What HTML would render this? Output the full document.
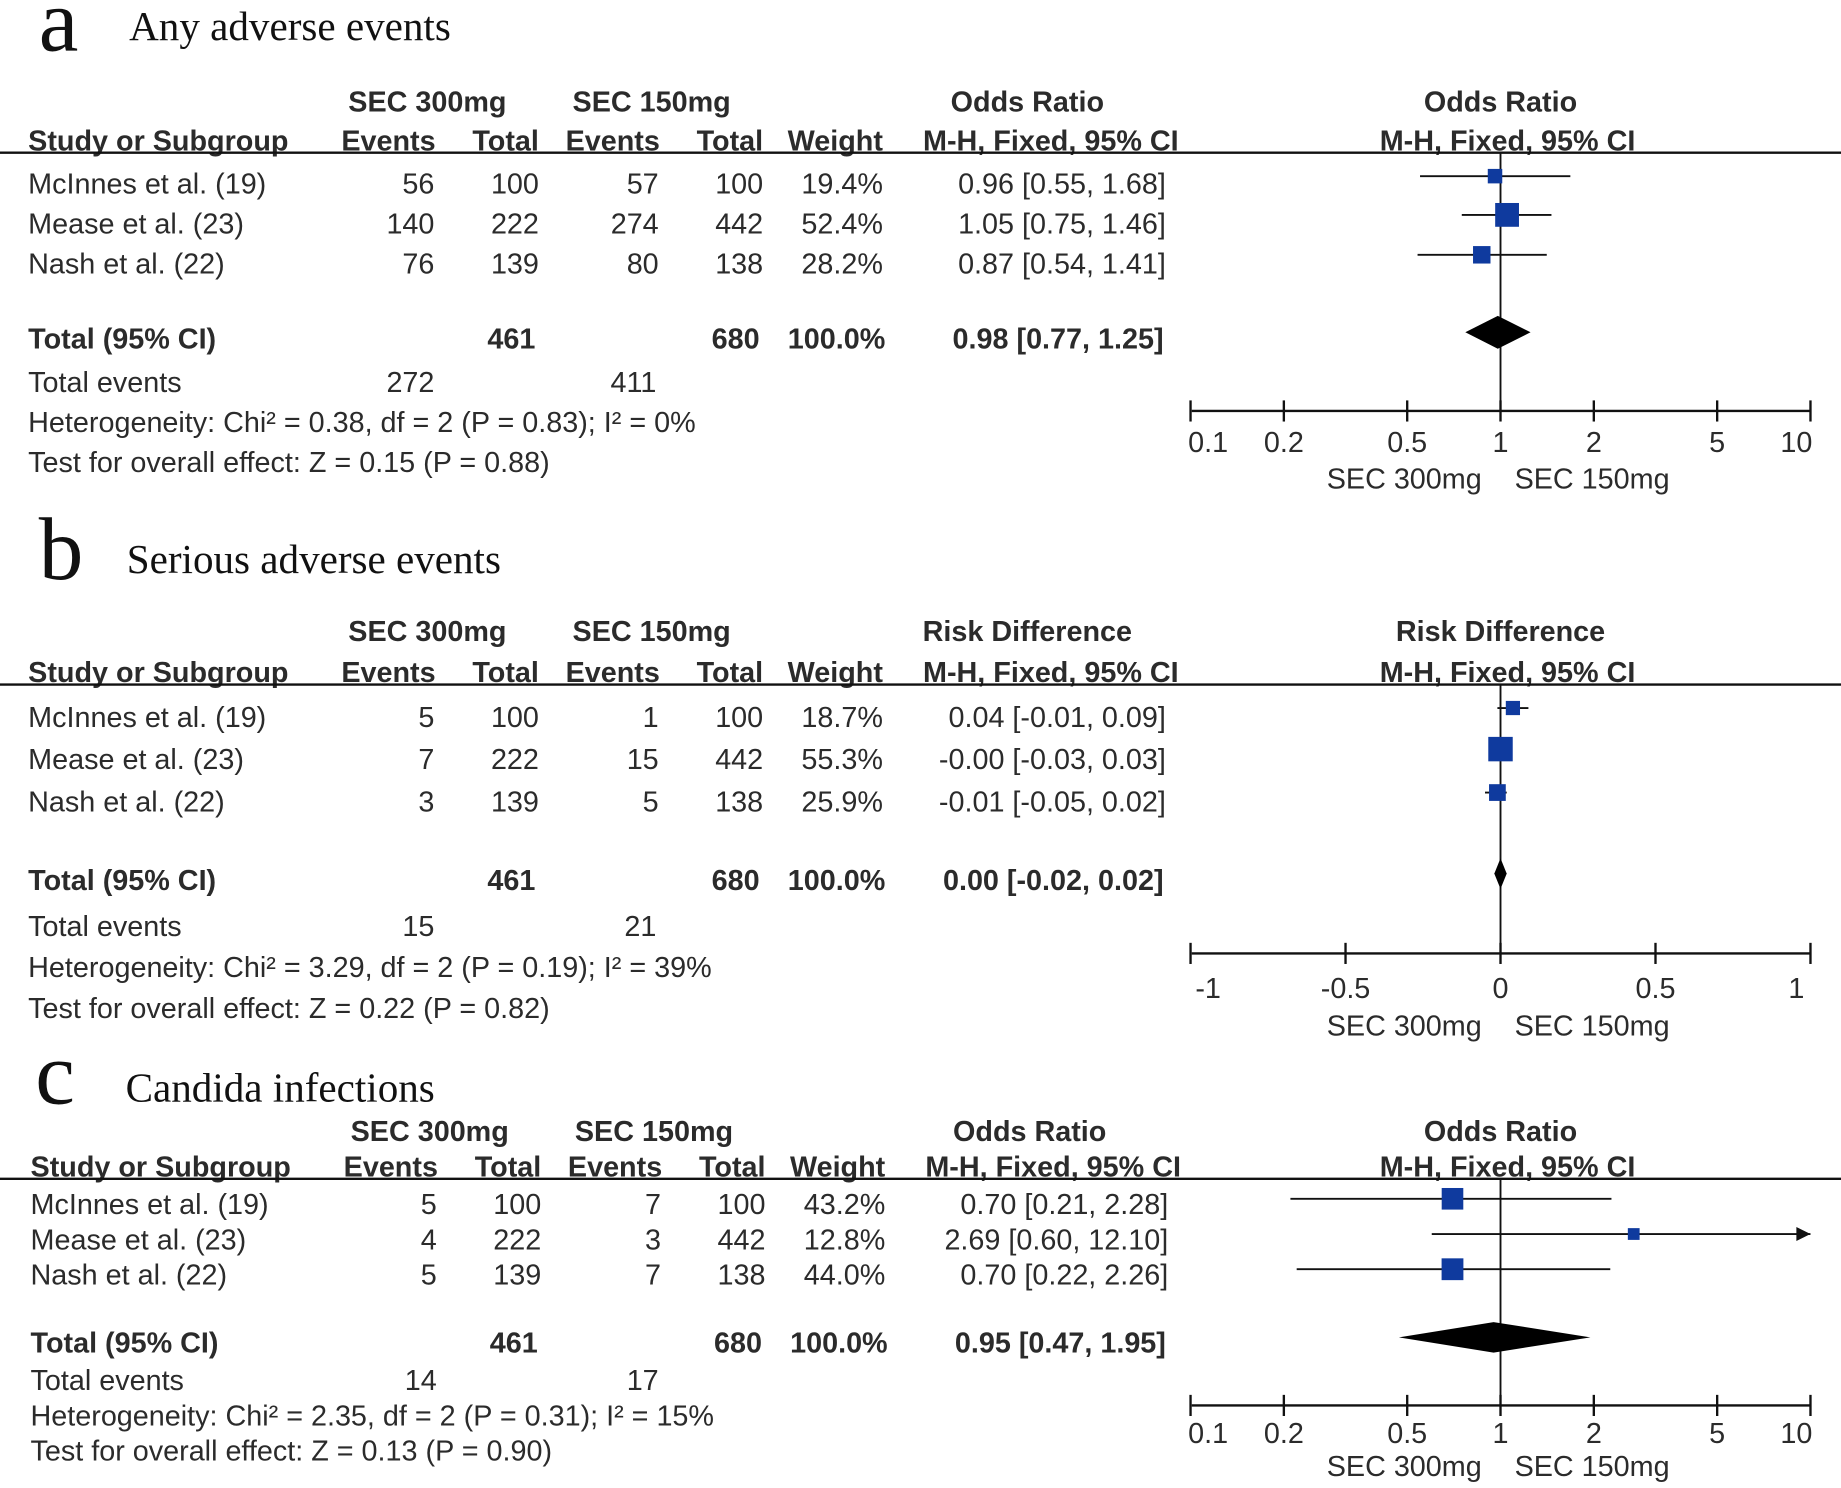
<!DOCTYPE html>
<html><head><meta charset="utf-8"><style>
html,body{margin:0;padding:0;background:#fff}
svg{display:block}
text{font-family:"Liberation Sans",Arial,sans-serif;fill:#2b2b2b}
.b{font-weight:bold}
.serif{font-family:"Liberation Serif",serif;fill:#111}
</style></head><body>
<svg id="chart" width="1841" height="1488" viewBox="0 0 1568 1267.3" xmlns="http://www.w3.org/2000/svg"></svg>
<script>
// ---- data ----
const studies = ["McInnes et al. (19)", "Mease et al. (23)", "Nash et al. (22)"];
const aEvents300 = [56, 140, 76], aTotal300 = [100, 222, 139], aEvents150 = [57, 274, 80], aTotal150 = [100, 442, 138];
const aWeight = [19.4, 52.4, 28.2];
const aEst = [0.96, 1.05, 0.87], aLo = [0.55, 0.75, 0.54], aHi = [1.68, 1.46, 1.41];
const aTotal = [0.98, 0.77, 1.25];
const bEvents300 = [5, 7, 3], bTotal300 = [100, 222, 139], bEvents150 = [1, 15, 5], bTotal150 = [100, 442, 138];
const bWeight = [18.7, 55.3, 25.9];
const bEst = [0.04, -0.00, -0.01], bLo = [-0.01, -0.03, -0.05], bHi = [0.09, 0.03, 0.02];
const bTotal = [0.00, -0.02, 0.02];
const cEvents300 = [5, 4, 5], cTotal300 = [100, 222, 139], cEvents150 = [7, 3, 7], cTotal150 = [100, 442, 138];
const cWeight = [43.2, 12.8, 44.0];
const cEst = [0.70, 2.69, 0.70], cLo = [0.21, 0.60, 0.22], cHi = [2.28, 12.10, 2.26];
const cTotal = [0.95, 0.47, 1.95];
const orTicks = [0.1, 0.2, 0.5, 1, 2, 5, 10];
const orTickLabels = ["0.1", "0.2", "0.5", "1", "2", "5", "10"];
const rdTicks = [-1, -0.5, 0, 0.5, 1];
const rdTickLabels = ["-1", "-0.5", "0", "0.5", "1"];

const NS = "http://www.w3.org/2000/svg";
const svg = document.getElementById("chart");
const FS = 24.5;
function el(tag, attrs, parent) {
  const e = document.createElementNS(NS, tag);
  for (const k in attrs) e.setAttribute(k, attrs[k]);
  (parent || svg).appendChild(e);
  return e;
}
function txt(s, x, y, anchor, cls, size, name, parent) {
  const t = el("text", {x: x, y: y, "text-anchor": anchor || "start", "font-size": size || FS}, parent);
  if (cls) t.setAttribute("class", cls);
  
  
  t.textContent = s;
  return t;
}
const X0 = 1015, X1 = 1542, XC = 1278;
const logX = v => XC + Math.log10(v) * (X1 - XC);
const linX = v => XC + v * (X1 - XC);
const fmt = (v, d) => v.toFixed(d);
const f2 = v => (v < 0 || Object.is(v, -0) ? "-" : "") + Math.abs(v).toFixed(2);

function panel(cfg) {
  const g = el("g", {});
  
  
  txt(cfg.letter, cfg.letterX, cfg.letterY, "start", "serif", 76, "panel-letter", g);
  txt(cfg.title, cfg.titleX, cfg.titleY, "start", "serif", 35, "panel-title", g);
  const dx = cfg.dx || 0;
  const h1 = cfg.h1, h2 = cfg.h2;
  txt("SEC 300mg", 364 + dx, h1, "middle", "b", FS, "group-header-sec300", g);
  txt("SEC 150mg", 555 + dx, h1, "middle", "b", FS, "group-header-sec150", g);
  txt(cfg.measure, 875 + dx, h1, "middle", "b", FS, "measure-header", g);
  txt(cfg.measure, 1278, h1, "middle", "b", FS, "plot-measure-header", g);
  txt("Study or Subgroup", 24 + dx, h2, "start", "b", FS, "study-column-header", g);
  txt("Events", 371 + dx, h2, "end", "b", FS, "events-300-header", g);
  txt("Total", 459 + dx, h2, "end", "b", FS, "total-300-header", g);
  txt("Events", 562 + dx, h2, "end", "b", FS, "events-150-header", g);
  txt("Total", 650 + dx, h2, "end", "b", FS, "total-150-header", g);
  txt("Weight", 752 + dx, h2, "end", "b", FS, "weight-header", g);
  txt("M-H, Fixed, 95% CI", 895 + dx, h2, "middle", "b", FS, "method-header", g);
  txt("M-H, Fixed, 95% CI", 1284, h2, "middle", "b", FS, "plot-method-header", g);
  const hl = el("line", {x1: 0, x2: 1568, y1: cfg.line, y2: cfg.line, stroke: "#111", "stroke-width": 2}, g);
  
  
  const vl = el("line", {x1: XC, x2: XC, y1: cfg.line, y2: cfg.axisY, stroke: "#111", "stroke-width": 1.6}, g);
  
  
  const sx = cfg.scale;
  for (let i = 0; i < studies.length; i++) {
    const y = cfg.rows[i];
    txt(studies[i], 24 + dx, y, "start", "", FS, "study-name", g);
    txt(String(cfg.e300[i]), 370 + dx, y, "end", "", FS, "events-300", g);
    txt(String(cfg.t300[i]), 459 + dx, y, "end", "", FS, "total-300", g);
    txt(String(cfg.e150[i]), 561 + dx, y, "end", "", FS, "events-150", g);
    txt(String(cfg.t150[i]), 650 + dx, y, "end", "", FS, "total-150", g);
    txt(fmt(cfg.w[i], 1) + "%", 752 + dx, y, "end", "", FS, "weight", g);
    txt(f2(cfg.est[i]) + " [" + f2(cfg.lo[i]) + ", " + f2(cfg.hi[i]) + "]", 993 + dx, y, "end", "", FS, "effect-ci", g);
    const my = cfg.markY[i];
    const xl = Math.max(X0, sx(cfg.lo[i])), xh = Math.min(X1, sx(cfg.hi[i]));
    const ci = el("line", {x1: xl, x2: xh, y1: my, y2: my, stroke: "#111", "stroke-width": 1.6}, g);
    
    
    if (sx(cfg.hi[i]) > X1) {
      const ar = el("polygon", {points: (X1) + "," + my + " " + (X1 - 12) + "," + (my - 6) + " " + (X1 - 12) + "," + (my + 6), fill: "#111"}, g);
      
      
    }
    const sz = Math.sqrt(cfg.w[i]) * 2.8;
    const sq = el("rect", {x: sx(cfg.est[i]) - sz / 2, y: my - sz / 2, width: sz, height: sz, fill: "#0f3a9e"}, g);
    
    
  }
  const ty = cfg.totY;
  txt("Total (95% CI)", 24 + dx, ty, "start", "b", FS, "total-label", g);
  txt(String(cfg.t300.reduce((a, b) => a + b, 0)), 456 + dx, ty, "end", "b", FS, "total-300-sum", g);
  txt(String(cfg.t150.reduce((a, b) => a + b, 0)), 647 + dx, ty, "end", "b", FS, "total-150-sum", g);
  txt("100.0%", 754 + dx, ty, "end", "b", FS, "total-weight", g);
  txt(f2(cfg.tot[0]) + " [" + f2(cfg.tot[1]) + ", " + f2(cfg.tot[2]) + "]", 991 + dx, ty, "end", "b", FS, "total-effect-ci", g);
  const dy = cfg.diaY, dh = cfg.diaH;
  const dm = el("polygon", {points: [sx(cfg.tot[1]) + "," + dy, sx(cfg.tot[0]) + "," + (dy - dh), sx(cfg.tot[2]) + "," + dy, sx(cfg.tot[0]) + "," + (dy + dh)].join(" "), fill: "#000"}, g);
  
  
  txt("Total events", 24 + dx, cfg.evY, "start", "", FS, "total-events-label", g);
  txt(String(cfg.e300.reduce((a, b) => a + b, 0)), 370 + dx, cfg.evY, "end", "", FS, "total-events-300", g);
  txt(String(cfg.e150.reduce((a, b) => a + b, 0)), 559 + dx, cfg.evY, "end", "", FS, "total-events-150", g);
  txt(cfg.het, 24 + dx, cfg.hetY, "start", "", FS, "heterogeneity-text", g);
  txt(cfg.test, 24 + dx, cfg.testY, "start", "", FS, "overall-effect-text", g);
  const ay = cfg.axisY;
  const ax = el("line", {x1: X0, x2: X1, y1: ay, y2: ay, stroke: "#111", "stroke-width": 2}, g);
  
  
  cfg.ticks.forEach((t, i) => {
    const x = sx(t);
    const tk = el("line", {x1: x, x2: x, y1: ay - 9, y2: ay + 9, stroke: "#111", "stroke-width": 2}, g);
    
    
    txt(cfg.tickLabels[i], x + (i === 0 ? 15 : i === cfg.ticks.length - 1 ? -12 : 0), cfg.tickY, "middle", "", FS, "x-tick-label", g);
  });
  txt("SEC 300mg", 1196, cfg.favY, "middle", "", FS, "favours-left-label", g);
  txt("SEC 150mg", 1356, cfg.favY, "middle", "", FS, "favours-right-label", g);
}

panel({name: "panel-a-any-adverse-events", letter: "a", letterX: 33, letterY: 43, title: "Any adverse events", titleX: 110, titleY: 34,
  measure: "Odds Ratio", h1: 95, h2: 128, line: 130, rows: [165, 199, 233], markY: [150, 183, 217],
  e300: aEvents300, t300: aTotal300, e150: aEvents150, t150: aTotal150, w: aWeight, est: aEst, lo: aLo, hi: aHi, tot: aTotal,
  totY: 297, diaY: 283, diaH: 14, evY: 334, hetY: 368, testY: 402,
  het: "Heterogeneity: Chi² = 0.38, df = 2 (P = 0.83); I² = 0%", test: "Test for overall effect: Z = 0.15 (P = 0.88)",
  scale: logX, ticks: orTicks, tickLabels: orTickLabels, axisY: 350, tickY: 385, favY: 416});
panel({name: "panel-b-serious-adverse-events", letter: "b", letterX: 33, letterY: 493, title: "Serious adverse events", titleX: 108, titleY: 488,
  measure: "Risk Difference", h1: 546, h2: 581, line: 583, rows: [619, 655, 691], markY: [603, 638, 675],
  e300: bEvents300, t300: bTotal300, e150: bEvents150, t150: bTotal150, w: bWeight, est: bEst, lo: bLo, hi: bHi, tot: bTotal,
  totY: 758, diaY: 744, diaH: 13, evY: 797, hetY: 832, testY: 867,
  het: "Heterogeneity: Chi² = 3.29, df = 2 (P = 0.19); I² = 39%", test: "Test for overall effect: Z = 0.22 (P = 0.82)",
  scale: linX, ticks: rdTicks, tickLabels: rdTickLabels, axisY: 812, tickY: 850, favY: 882});
panel({name: "panel-c-candida-infections", letter: "c", letterX: 30, letterY: 940, title: "Candida infections", titleX: 107, titleY: 938,
  measure: "Odds Ratio", dx: 2, h1: 972, h2: 1002, line: 1004, rows: [1034, 1064, 1094], markY: [1021, 1051, 1081],
  e300: cEvents300, t300: cTotal300, e150: cEvents150, t150: cTotal150, w: cWeight, est: cEst, lo: cLo, hi: cHi, tot: cTotal,
  totY: 1152, diaY: 1139, diaH: 13, evY: 1184, hetY: 1214, testY: 1244,
  het: "Heterogeneity: Chi² = 2.35, df = 2 (P = 0.31); I² = 15%", test: "Test for overall effect: Z = 0.13 (P = 0.90)",
  scale: logX, ticks: orTicks, tickLabels: orTickLabels, axisY: 1197, tickY: 1229, favY: 1257});
</script>
</body></html>
